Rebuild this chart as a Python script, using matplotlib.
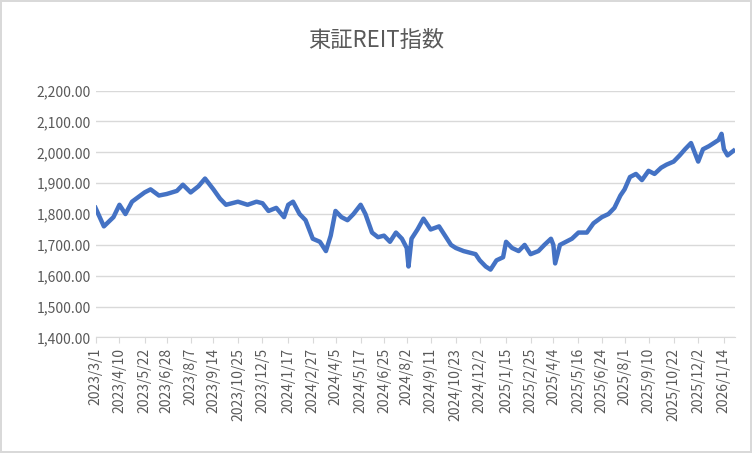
import matplotlib
matplotlib.use("Agg")
import matplotlib.pyplot as plt
import matplotlib.dates as mdates
import matplotlib.ticker as mticker
import pandas as pd

dates = ["2023/3/1","2023/3/15","2023/3/31","2023/4/10","2023/4/20","2023/5/1","2023/5/22","2023/6/1","2023/6/15",
"2023/6/28","2023/7/15","2023/7/25","2023/8/7","2023/8/20","2023/8/31","2023/9/14","2023/9/25","2023/10/5",
"2023/10/25","2023/11/10","2023/11/25","2023/12/5","2023/12/15","2023/12/28","2024/1/10","2024/1/17","2024/1/25",
"2024/2/5","2024/2/15","2024/2/27","2024/3/10","2024/3/20","2024/3/28","2024/4/5","2024/4/15","2024/4/25",
"2024/5/5","2024/5/17","2024/5/25","2024/6/5","2024/6/15","2024/6/25","2024/7/5","2024/7/15","2024/7/25",
"2024/8/2","2024/8/5","2024/8/10","2024/8/20","2024/8/30","2024/9/11","2024/9/25","2024/10/5","2024/10/15",
"2024/10/23","2024/11/5","2024/11/15","2024/11/25","2024/12/2","2024/12/12","2024/12/20","2024/12/30",
"2025/1/10","2025/1/15","2025/1/25","2025/2/5","2025/2/15","2025/2/25","2025/3/10","2025/3/20","2025/3/31",
"2025/4/4","2025/4/7","2025/4/15","2025/4/25","2025/5/5","2025/5/16","2025/5/30","2025/6/10","2025/6/24",
"2025/7/5","2025/7/15","2025/7/25","2025/8/1","2025/8/10","2025/8/20","2025/8/30","2025/9/10","2025/9/20",
"2025/10/1","2025/10/10","2025/10/22","2025/11/1","2025/11/10","2025/11/20","2025/12/2","2025/12/10",
"2025/12/20","2026/1/5","2026/1/10","2026/1/14","2026/1/20","2026/1/30"]
values = [1820,1760,1790,1830,1800,1840,1870,1880,1860,1865,1875,1895,1870,1890,1915,1880,1850,1830,
1840,1830,1840,1835,1810,1820,1790,1830,1840,1800,1780,1720,1710,1680,1730,1810,1790,1780,
1800,1830,1800,1740,1725,1730,1710,1740,1720,1690,1630,1720,1750,1785,1750,1760,1730,1700,
1690,1680,1675,1670,1650,1630,1620,1650,1660,1710,1690,1680,1700,1670,1680,1700,1720,
1700,1640,1700,1710,1720,1740,1740,1770,1790,1800,1820,1860,1880,1920,1930,1910,1940,1930,
1950,1960,1970,1990,2010,2030,1970,2010,2020,2040,2060,2010,1990,2005]
tick_labels = ["2023/3/1","2023/4/10","2023/5/22","2023/6/28","2023/8/7","2023/9/14","2023/10/25","2023/12/5",
"2024/1/17","2024/2/27","2024/4/5","2024/5/17","2024/6/25","2024/8/2","2024/9/11","2024/10/23","2024/12/2",
"2025/1/15","2025/2/25","2025/4/4","2025/5/16","2025/6/24","2025/8/1","2025/9/10","2025/10/22","2025/12/2","2026/1/14"]

plt.rcParams['font.family'] = ['Noto Sans CJK JP', 'DejaVu Sans']
fig = plt.figure(figsize=(7.52, 4.53), dpi=100)
fig.patch.set_edgecolor('#d9d9d9'); fig.patch.set_linewidth(1.5)
ax = fig.add_axes([0.127, 0.255, 0.85, 0.545])
x = pd.to_datetime(dates, format="%Y/%m/%d")
ax.plot(x, values, color='#4472C4', lw=3.2)
ax.set_ylim(1400, 2200)
ax.yaxis.set_major_locator(mticker.MultipleLocator(100))
ax.yaxis.set_major_formatter(mticker.FuncFormatter(lambda v, p: f"{v:,.2f}"))
ax.grid(axis='y', color='#d9d9d9', lw=1)
tx = pd.to_datetime(tick_labels, format="%Y/%m/%d")
ax.set_xticks(tx)
ax.set_xticklabels(tick_labels, rotation=90)
ax.set_xlim(pd.Timestamp("2023/3/1"), pd.Timestamp("2026/2/1"))
for s in ['top', 'right', 'left']:
    ax.spines[s].set_visible(False)
ax.spines['bottom'].set_color('#d9d9d9')
ax.tick_params(axis='both', colors='#595959', labelsize=10, length=0)
ax.tick_params(axis='x', length=4, color='#d9d9d9')
ax.set_axisbelow(True)
fig.text(0.5, 0.91, "東証REIT指数", ha='center', va='center', fontsize=16, color='#595959')
fig.savefig("out.png")
